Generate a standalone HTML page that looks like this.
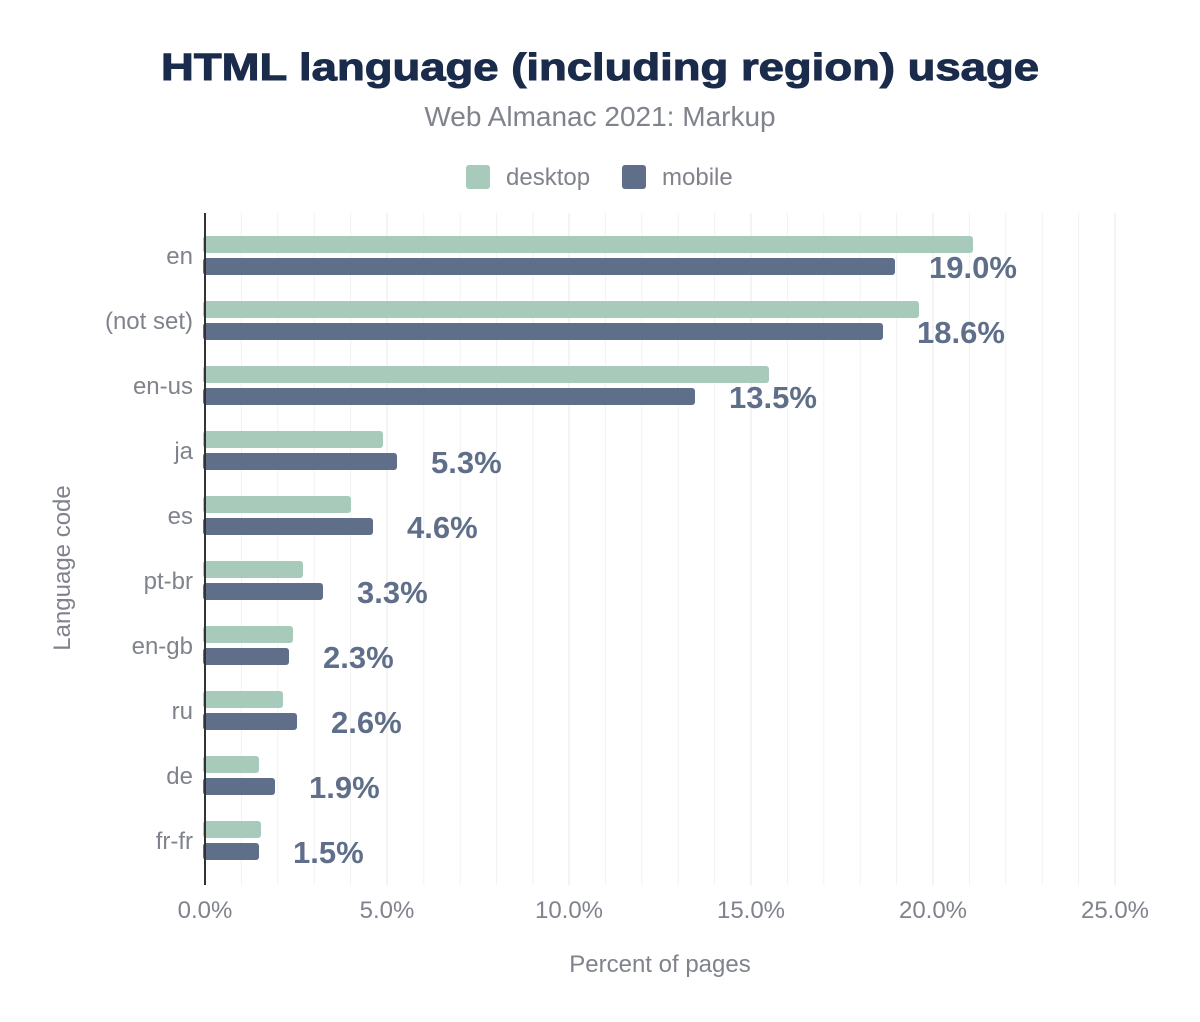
<!DOCTYPE html>
<html><head><meta charset="utf-8"><style>body{margin:0;background:#fff}svg{display:block}</style></head>
<body>
<svg width="1200" height="1022" xmlns="http://www.w3.org/2000/svg" font-family="Liberation Sans, Arial, sans-serif">
<rect width="1200" height="1022" fill="#fff"/>
<text x="600" y="80" text-anchor="middle" font-size="38" font-weight="bold" fill="#1a2b4b" textLength="878" lengthAdjust="spacingAndGlyphs" stroke="#1a2b4b" stroke-width="1">HTML language (including region) usage</text>
<text x="600" y="126" text-anchor="middle" font-size="28" fill="#80838c">Web Almanac 2021: Markup</text>
<rect x="466" y="165" width="24" height="24" rx="3" fill="#a8cabb"/>
<text x="506" y="185" font-size="24" fill="#80838c">desktop</text>
<rect x="622" y="165" width="24" height="24" rx="3" fill="#5f6e89"/>
<text x="662" y="185" font-size="24" fill="#80838c">mobile</text>
<g stroke="#f2f2f2">
<line x1="241.4" y1="213" x2="241.4" y2="885"/><line x1="277.8" y1="213" x2="277.8" y2="885"/><line x1="314.2" y1="213" x2="314.2" y2="885"/><line x1="350.6" y1="213" x2="350.6" y2="885"/>
<line x1="423.8" y1="213" x2="423.8" y2="885"/><line x1="460.2" y1="213" x2="460.2" y2="885"/><line x1="496.6" y1="213" x2="496.6" y2="885"/><line x1="533" y1="213" x2="533" y2="885"/>
<line x1="605.4" y1="213" x2="605.4" y2="885"/><line x1="641.8" y1="213" x2="641.8" y2="885"/><line x1="678.2" y1="213" x2="678.2" y2="885"/><line x1="714.6" y1="213" x2="714.6" y2="885"/>
<line x1="787.4" y1="213" x2="787.4" y2="885"/><line x1="823.8" y1="213" x2="823.8" y2="885"/><line x1="860.2" y1="213" x2="860.2" y2="885"/><line x1="896.6" y1="213" x2="896.6" y2="885"/>
<line x1="969.4" y1="213" x2="969.4" y2="885"/><line x1="1005.8" y1="213" x2="1005.8" y2="885"/><line x1="1042.2" y1="213" x2="1042.2" y2="885"/><line x1="1078.6" y1="213" x2="1078.6" y2="885"/>
</g>
<g stroke="#e8e8e8">
<line x1="387" y1="213" x2="387" y2="885"/><line x1="569" y1="213" x2="569" y2="885"/><line x1="751" y1="213" x2="751" y2="885"/><line x1="933" y1="213" x2="933" y2="885"/><line x1="1115" y1="213" x2="1115" y2="885"/>
</g>
<g fill="#a8cabb">
<rect x="203" y="236" width="770" height="17" rx="3"/>
<rect x="203" y="301" width="716" height="17" rx="3"/>
<rect x="203" y="366" width="566" height="17" rx="3"/>
<rect x="203" y="431" width="180" height="17" rx="3"/>
<rect x="203" y="496" width="148" height="17" rx="3"/>
<rect x="203" y="561" width="100" height="17" rx="3"/>
<rect x="203" y="626" width="90" height="17" rx="3"/>
<rect x="203" y="691" width="80" height="17" rx="3"/>
<rect x="203" y="756" width="56" height="17" rx="3"/>
<rect x="203" y="821" width="58" height="17" rx="3"/>
</g>
<g fill="#5f6e89">
<rect x="203" y="258" width="692" height="17" rx="3"/>
<rect x="203" y="323" width="680" height="17" rx="3"/>
<rect x="203" y="388" width="492" height="17" rx="3"/>
<rect x="203" y="453" width="194" height="17" rx="3"/>
<rect x="203" y="518" width="170" height="17" rx="3"/>
<rect x="203" y="583" width="120" height="17" rx="3"/>
<rect x="203" y="648" width="86" height="17" rx="3"/>
<rect x="203" y="713" width="94" height="17" rx="3"/>
<rect x="203" y="778" width="72" height="17" rx="3"/>
<rect x="203" y="843" width="56" height="17" rx="3"/>
</g>
<line x1="205" y1="213" x2="205" y2="885" stroke="#333" stroke-width="2"/>
<g font-size="24" fill="#80838c" text-anchor="end">
<text x="193" y="264">en</text>
<text x="193" y="329">(not set)</text>
<text x="193" y="394">en-us</text>
<text x="193" y="459">ja</text>
<text x="193" y="524">es</text>
<text x="193" y="589">pt-br</text>
<text x="193" y="654">en-gb</text>
<text x="193" y="719">ru</text>
<text x="193" y="784">de</text>
<text x="193" y="849">fr-fr</text>
</g>
<g font-size="31" font-weight="bold" fill="#5f6e89">
<text x="929" y="278">19.0%</text>
<text x="917" y="343">18.6%</text>
<text x="729" y="408">13.5%</text>
<text x="431" y="473">5.3%</text>
<text x="407" y="538">4.6%</text>
<text x="357" y="603">3.3%</text>
<text x="323" y="668">2.3%</text>
<text x="331" y="733">2.6%</text>
<text x="309" y="798">1.9%</text>
<text x="293" y="863">1.5%</text>
</g>
<g font-size="24" fill="#80838c" text-anchor="middle">
<text x="205" y="918">0.0%</text><text x="387" y="918">5.0%</text><text x="569" y="918">10.0%</text><text x="751" y="918">15.0%</text><text x="933" y="918">20.0%</text><text x="1115" y="918">25.0%</text>
</g>
<text x="660" y="972" text-anchor="middle" font-size="24" fill="#80838c">Percent of pages</text>
<text transform="translate(70,568) rotate(-90)" text-anchor="middle" font-size="24" fill="#80838c">Language code</text>
</svg>
</body></html>
